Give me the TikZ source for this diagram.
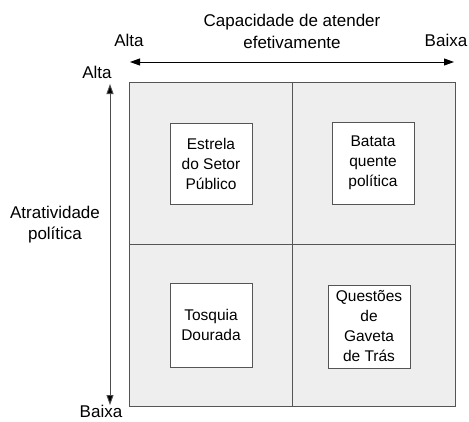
\documentclass[tikz,border=0pt]{standalone}
\usepackage{fontspec}
\setmainfont{Liberation Sans}
\usetikzlibrary{arrows.meta}
\definecolor{cellfill}{HTML}{EEEEEE}
\definecolor{cellline}{HTML}{555555}
\begin{document}
\begin{tikzpicture}[x=1pt,y=-1pt,
  lbl/.style={inner sep=0pt,align=center,font=\fontsize{17}{21}\selectfont},
  inbox/.style={draw=cellline,fill=white,line width=0.8pt,minimum width=82pt,inner sep=0pt,align=center,font=\fontsize{15.5}{20}\selectfont},
  axis/.style={line width=0.9pt},
  grid/.style={draw=cellline,line width=0.8pt}]
\useasboundingbox (0,0) rectangle (469,421);
% main square
\coordinate (tl) at (129,82);
\coordinate (br) at (455,406);
\fill[cellfill] (tl) rectangle (br);
\draw[grid] (292,82) -- (292,406);
\draw[grid] (129,244) -- (455,244);
\draw[grid] (tl) rectangle (br);
% axes
\coordinate (hl) at (130,62);
\coordinate (hr) at (454,62);
\draw[axis,{Triangle[length=10pt,width=7pt]}-{Triangle[length=10pt,width=7pt]}] (hl) -- (hr);
\coordinate (vt) at (110,84);
\coordinate (vb) at (110,405);
\draw[axis,draw=black!70,{Triangle[length=10pt,width=7pt,fill=black]}-{Triangle[length=10pt,width=7pt,fill=black]}] (vt) -- (vb);
% labels
\node[lbl] (cap) at (292,22) {Capacidade de atender};
\node[lbl] (efe) at (292,42) {efetivamente};
\node[lbl] (altaH) at (129,40) {Alta};
\node[lbl] (baixaH) at (446,40) {Baixa};
\node[lbl] (altaV) at (97,72) {Alta};
\node[inner sep=0pt,font=\fontsize{17}{21}\selectfont,anchor=base] (baixaV) at (101,417) {Baixa};
\node[lbl] (atr) at (55,225) {Atratividade\\política};
% inner boxes
\node[inbox,minimum height=81pt] (estrela) at (211,163.5) {Estrela\\do Setor\\Público};
\node[inbox,minimum height=82pt] (batata) at (373,163) {Batata\\quente\\política};
\node[inbox,minimum height=84pt] (tosquia) at (211,325) {Tosquia\\Dourada};
\node[inbox,minimum height=83pt] (questoes) at (369,326.5) {Questões\\de\\Gaveta\\de Trás};
\end{tikzpicture}
\end{document}
